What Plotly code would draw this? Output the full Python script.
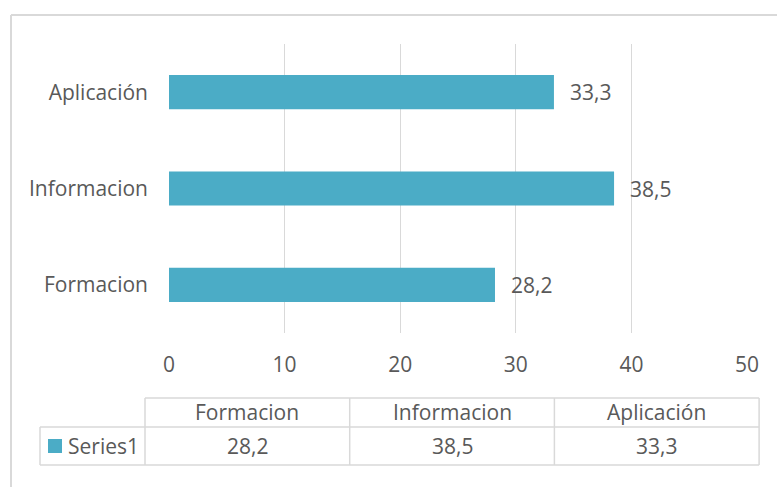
import plotly.graph_objects as go

categories = ["Formacion", "Informacion", "Aplicación"]
values = [28.2, 38.5, 33.3]
series_name = "Series1"
x_ticks = [0, 10, 20, 30, 40, 50]

BAR = "#4BACC6"
TXT = "#595959"
GRID = "#D9D9D9"
FONT = "Open Sans"
FS = 21

W, H = 777, 487
L, R, T, B = 169, 747, 44, 333


def px(xp):
    return (xp - L) / (R - L)


def py(yp):
    return (B - yp) / (B - T)


def fmt(v):
    return f"{v:.1f}".replace(".", ",")


fig = go.Figure()
fig.add_trace(go.Bar(
    x=values, y=categories, orientation="h",
    marker=dict(color=BAR, line=dict(width=0)),
    name=series_name, showlegend=False, hoverinfo="skip",
))

annotations = []
for c, v in zip(categories, values):
    annotations.append(dict(x=v, y=c, xref="x", yref="y", text=fmt(v),
                            showarrow=False, xanchor="left", xshift=14,
                            font=dict(family=FONT, size=FS, color=TXT)))

shapes = []
# outer chart border (top and left visible)
shapes.append(dict(type="line", xref="paper", yref="paper",
                   x0=px(11), x1=px(800), y0=py(15), y1=py(15),
                   line=dict(color=GRID, width=2)))
shapes.append(dict(type="line", xref="paper", yref="paper",
                   x0=px(11), x1=px(11), y0=py(15), y1=py(520),
                   line=dict(color=GRID, width=2)))

# data table
col_left, col_w = 145, 204.7
leg_left = 40
y_top, y_mid, y_bot = 398, 427, 465
n = len(categories)
tline = dict(color=GRID, width=1.5)


def hline(x0, x1, y):
    shapes.append(dict(type="line", xref="paper", yref="paper",
                       x0=px(x0), x1=px(x1), y0=py(y), y1=py(y), line=tline))


def vline(x, y0, y1):
    shapes.append(dict(type="line", xref="paper", yref="paper",
                       x0=px(x), x1=px(x), y0=py(y0), y1=py(y1), line=tline))


x_end = col_left + n * col_w
hline(col_left, x_end, y_top)
hline(leg_left, x_end, y_mid)
hline(leg_left, x_end, y_bot)
vline(leg_left, y_mid, y_bot)
for i in range(n + 1):
    vline(col_left + i * col_w, y_top, y_bot)

for i, (c, v) in enumerate(zip(categories, values)):
    cx = col_left + (i + 0.5) * col_w
    annotations.append(dict(x=px(cx), y=py((y_top + y_mid) / 2), xref="paper", yref="paper",
                            text=c, showarrow=False, xanchor="center", yanchor="middle",
                            font=dict(family=FONT, size=FS, color=TXT)))
    annotations.append(dict(x=px(cx), y=py((y_mid + y_bot) / 2), xref="paper", yref="paper",
                            text=fmt(v), showarrow=False, xanchor="center", yanchor="middle",
                            font=dict(family=FONT, size=FS, color=TXT)))

# legend key
shapes.append(dict(type="rect", xref="paper", yref="paper",
                   x0=px(48), x1=px(62), y0=py(439), y1=py(453),
                   fillcolor=BAR, line=dict(width=0)))
annotations.append(dict(x=px(66), y=py((y_mid + y_bot) / 2), xref="paper", yref="paper",
                        text=series_name, showarrow=False, xanchor="left", yanchor="middle",
                        font=dict(family=FONT, size=FS, color=TXT)))

fig.update_layout(
    width=W, height=H,
    margin=dict(l=L, r=W - R, t=T, b=H - B, pad=0),
    plot_bgcolor="white", paper_bgcolor="white",
    bargap=0.645,
    separators=", ",
    font=dict(family=FONT, size=FS, color=TXT),
    xaxis=dict(range=[0, 50], tickvals=x_ticks, showgrid=True, gridcolor=GRID, gridwidth=1,
               zeroline=False, showline=False, ticks="", ticklabelstandoff=17,
               tickfont=dict(family=FONT, size=FS, color=TXT), fixedrange=True),
    yaxis=dict(categoryorder="array", categoryarray=categories, showgrid=False,
               zeroline=False, showline=False, ticks="", ticklabelstandoff=20,
               tickfont=dict(family=FONT, size=FS, color=TXT), fixedrange=True),
    shapes=shapes,
    annotations=annotations,
)

fig.write_html("out.html", config={"displayModeBar": False},
               post_script="document.body.style.margin='0';")
